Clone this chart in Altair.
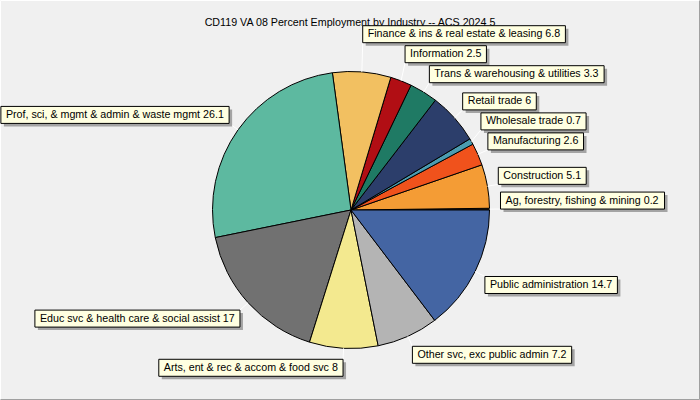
import math
import pandas as pd
import altair as alt

# Industry shares, listed counter-clockwise starting at 3 o'clock
industries = [
    "Ag, forestry, fishing & mining",
    "Construction",
    "Manufacturing",
    "Wholesale trade",
    "Retail trade",
    "Trans & warehousing & utilities",
    "Information",
    "Finance & ins & real estate & leasing",
    "Prof, sci, & mgmt & admin & waste mgmt",
    "Educ svc & health care & social assist",
    "Arts, ent & rec & accom & food svc",
    "Other svc, exc public admin",
    "Public administration",
]
values = [0.2, 5.1, 2.6, 0.7, 6, 3.3, 2.5, 6.8, 26.1, 17, 8, 7.2, 14.7]
colors = [
    "#3a2a1a", "#F49C35", "#F0521C", "#4B9CB0", "#2C3E6B", "#1F7A64", "#B10E14",
    "#F2C061", "#5DB9A0", "#717171", "#F3E98F", "#B4B4B4", "#4465A3",
]
TITLE = "CD119 VA 08 Percent Employment by Industry -- ACS 2024 5"

# Layout
W, H = 700, 400
CX, CY, R = 351, 210, 138.5
OFF = 11          # distance of a label corner beyond the rim
BOX_H = 17
PITCH = 20        # minimum vertical spacing between stacked label boxes
PAD = 5
FONT = "Liberation Sans"
FS = 10.7

# Arial / Liberation Sans advance widths (per 1000 em)
_AW = {" ": 278, "&": 667, ",": 278, "-": 333, ".": 278}
_AW.update({d: 556 for d in "0123456789"})
_AW.update(dict(zip("abcdefghijklmnopqrstuvwxyz",
                    [556, 556, 500, 556, 556, 278, 556, 556, 222, 222, 500, 222, 833,
                     556, 556, 556, 556, 333, 500, 278, 556, 500, 722, 500, 500, 500])))
_AW.update(dict(zip("ABCDEFGHIJKLMNOPQRSTUVWXYZ",
                    [667, 667, 722, 722, 667, 611, 778, 722, 278, 500, 667, 556, 833,
                     722, 778, 667, 778, 722, 667, 611, 722, 667, 944, 667, 667, 611])))


def text_width(s):
    return sum(_AW.get(c, 556) for c in s) * FS / 1000.0


total = sum(values)
rows = []
cum = 0.0
for i, (name, v) in enumerate(zip(industries, values)):
    a0 = cum / total * 2 * math.pi
    cum += v
    a1 = cum / total * 2 * math.pi
    mid = (a0 + a1) / 2
    c, s = math.cos(mid), math.sin(mid)
    rows.append(dict(
        industry=name, value=v, cw=len(values) - 1 - i,
        label=f"{name} {v:g}",
        ex=CX + R * c, ey=CY - R * s,
        ax=CX + (R + OFF) * c, ay=CY - (R + OFF) * s,
        right=c >= 0, upper=s > 0,
    ))

# Push overlapping label boxes apart, working outward from the horizontal
for right in (True, False):
    for upper in (True, False):
        grp = [r for r in rows if r["right"] == right and r["upper"] == upper]
        grp.sort(key=lambda r: r["ay"], reverse=upper)
        prev = None
        for r in grp:
            y = r["ay"]
            if prev is not None:
                y = min(y, prev - PITCH) if upper else max(y, prev + PITCH)
            r["cy"] = y
            prev = y

for r in rows:
    w = text_width(r["label"]) + 2 * PAD
    if r["upper"]:
        r["y1"], r["y2"] = r["cy"] - BOX_H, r["cy"]
    else:
        r["y1"], r["y2"] = r["cy"], r["cy"] + BOX_H
    if r["right"]:
        r["x1"], r["x2"] = r["ax"], r["ax"] + w
    else:
        r["x1"], r["x2"] = r["ax"] - w, r["ax"]
    r["tx"] = r["x1"] + PAD
    r["ty"] = (r["y1"] + r["y2"]) / 2
    r["sx1"], r["sx2"] = r["x1"] + 3, r["x2"] + 3
    r["sy1"], r["sy2"] = r["y1"] + 3, r["y2"] + 3

df = pd.DataFrame(rows)

xs = alt.Scale(domain=[0, W], range=[0, W], nice=False, zero=False)
ys = alt.Scale(domain=[0, H], range=[0, H], nice=False, zero=False)
X = lambda f: alt.X(f"{f}:Q", scale=xs, axis=None)
Y = lambda f: alt.Y(f"{f}:Q", scale=ys, axis=None)

base = alt.Chart(df)

pie = base.mark_arc(radius=R, stroke="black", strokeWidth=1).encode(
    theta=alt.Theta("value:Q", stack=True,
                    scale=alt.Scale(range=[math.pi / 2, 5 * math.pi / 2])),
    color=alt.Color("industry:N", legend=None,
                    scale=alt.Scale(domain=industries, range=colors)),
    order=alt.Order("cw:Q", sort="ascending"),
    x=alt.value(CX),
    y=alt.value(CY),
)

leaders = base.mark_rule(color="white", strokeWidth=1).encode(
    x=X("ex"), y=Y("ey"), x2="ax:Q", y2="cy:Q"
)

shadows = base.mark_rect(color="#A4A4A4").encode(
    x=X("sx1"), x2="sx2:Q", y=Y("sy1"), y2="sy2:Q"
)

boxes = base.mark_rect(fill="#FFFFE1", stroke="black", strokeWidth=1).encode(
    x=X("x1"), x2="x2:Q", y=Y("y1"), y2="y2:Q"
)

labels = base.mark_text(align="left", baseline="middle", font=FONT,
                        fontSize=FS, color="black").encode(
    x=X("tx"), y=Y("ty"), text="label:N"
)

title = alt.Chart(pd.DataFrame({"t": [TITLE]})).mark_text(
    align="center", baseline="middle", font=FONT, fontSize=FS, color="black"
).encode(x=alt.value(350), y=alt.value(23), text="t:N")

# 3-D style frame around the chart
frame_light = alt.Chart(pd.DataFrame({"k": [0]})).mark_rule(color="white").encode(
    x=alt.value(0.5), x2=alt.value(699.5), y=alt.value(0.5), y2=alt.value(0.5))
frame_light2 = alt.Chart(pd.DataFrame({"k": [0]})).mark_rule(color="white").encode(
    x=alt.value(0.5), x2=alt.value(0.5), y=alt.value(0.5), y2=alt.value(399.5))
frame_dark = alt.Chart(pd.DataFrame({"k": [0]})).mark_rule(color="#A0A0A0").encode(
    x=alt.value(0.5), x2=alt.value(699.5), y=alt.value(399.5), y2=alt.value(399.5))
frame_dark2 = alt.Chart(pd.DataFrame({"k": [0]})).mark_rule(color="#A0A0A0").encode(
    x=alt.value(699.5), x2=alt.value(699.5), y=alt.value(0.5), y2=alt.value(399.5))

chart = alt.layer(
    frame_light, frame_light2, frame_dark, frame_dark2,
    pie, leaders, title, shadows, boxes, labels,
).properties(
    width=W, height=H, padding=0, autosize=alt.AutoSizeParams(type="none"),
    background="#F0F0F0",
).configure_view(stroke=None)

chart.save("out.html", embed_options={"renderer": "svg", "actions": False})
